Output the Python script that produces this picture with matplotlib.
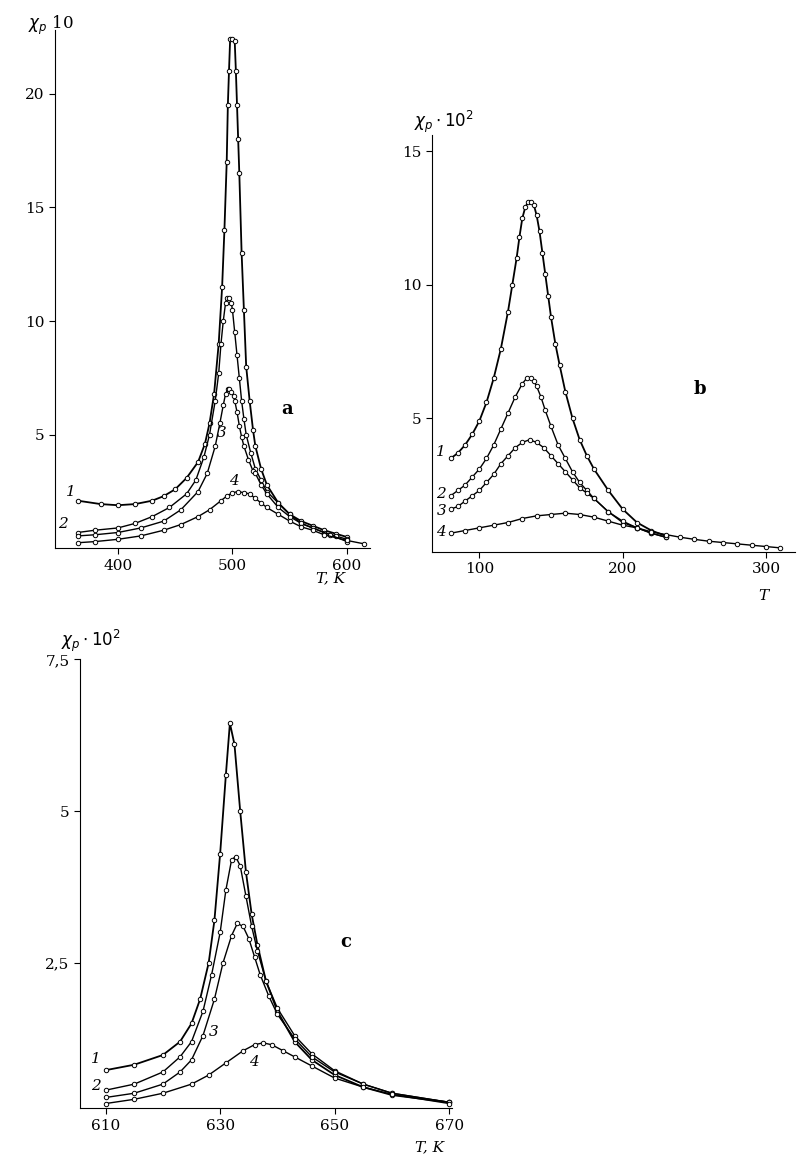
import matplotlib
matplotlib.use("Agg")
import matplotlib.pyplot as plt
import numpy as np

# Panel a
a_T = {
 1: [365,385,400,415,430,440,450,460,470,476,480,484,488,491,493,495,496,497,498,500,502,503,504,505,506,508,510,512,515,518,520,525,530,540,550,560,570,580,590,600],
 2: [365,380,400,415,430,445,460,468,475,480,485,488,490,492,494,495,497,499,500,502,504,506,508,510,512,516,520,525,530,540,550,560,570,580,590,600],
 3: [365,380,400,420,440,455,470,478,485,489,492,494,496,497,499,501,502,504,506,508,510,514,518,520,525,530,540,550,560,570,585,600],
 4: [365,380,400,420,440,455,470,480,490,495,500,505,510,515,520,525,530,540,550,560,570,580,600,615],
}
a_X = {
 1: [2.1,1.95,1.9,1.95,2.1,2.3,2.6,3.1,3.8,4.6,5.5,6.8,9.0,11.5,14.0,17.0,19.5,21.0,22.4,22.4,22.3,21.0,19.5,18.0,16.5,13.0,10.5,8.0,6.5,5.2,4.5,3.5,2.8,2.0,1.5,1.2,1.0,0.8,0.65,0.5],
 2: [0.7,0.8,0.9,1.1,1.4,1.8,2.4,3.0,4.0,5.0,6.5,7.7,9.0,10.0,10.8,11.0,11.0,10.8,10.5,9.5,8.5,7.5,6.5,5.7,5.0,4.2,3.5,3.0,2.5,2.0,1.5,1.1,0.9,0.7,0.55,0.4],
 3: [0.55,0.6,0.7,0.9,1.2,1.7,2.5,3.3,4.5,5.5,6.3,6.8,7.0,7.0,6.9,6.7,6.5,6.0,5.4,4.9,4.5,3.9,3.4,3.3,2.8,2.4,1.8,1.4,1.1,0.9,0.6,0.3],
 4: [0.25,0.3,0.4,0.55,0.8,1.05,1.4,1.7,2.1,2.3,2.45,2.5,2.45,2.4,2.2,2.0,1.8,1.5,1.2,0.95,0.8,0.6,0.35,0.2],
}
# Panel b
b_T = {
 1: [80,85,90,95,100,105,110,115,120,123,126,128,130,132,134,136,138,140,142,144,146,148,150,153,156,160,165,170,175,180,190,200,210,220,230],
 2: [80,85,90,95,100,105,110,115,120,125,130,133,136,138,140,143,146,150,155,160,165,170,175,180,190,200,210,220,230],
 3: [80,85,90,95,100,105,110,115,120,125,130,135,140,145,150,155,160,165,170,175,180,190,200,210,220,230],
 4: [80,90,100,110,120,130,140,150,160,170,180,190,200,210,220,230,240,250,260,270,280,290,300,310],
}
b_X = {
 1: [3.5,3.7,4.0,4.4,4.9,5.6,6.5,7.6,9.0,10.0,11.0,11.8,12.5,12.9,13.1,13.1,13.0,12.6,12.0,11.2,10.4,9.6,8.8,7.8,7.0,6.0,5.0,4.2,3.6,3.1,2.3,1.6,1.1,0.8,0.6],
 2: [2.1,2.3,2.5,2.8,3.1,3.5,4.0,4.6,5.2,5.8,6.3,6.5,6.5,6.4,6.2,5.8,5.3,4.7,4.0,3.5,3.0,2.6,2.3,2.0,1.5,1.1,0.9,0.7,0.55],
 3: [1.6,1.7,1.9,2.1,2.3,2.6,2.9,3.3,3.6,3.9,4.1,4.2,4.1,3.9,3.6,3.3,3.0,2.7,2.4,2.2,2.0,1.5,1.15,0.9,0.7,0.55],
 4: [0.7,0.8,0.9,1.0,1.1,1.25,1.35,1.4,1.45,1.4,1.3,1.15,1.0,0.9,0.75,0.65,0.55,0.47,0.4,0.35,0.3,0.25,0.2,0.15],
}
# Panel c
c_T = {
 1: [610,615,620,623,625,626.5,628,629,630,631,631.7,632.5,633.5,634.5,635.5,636.5,638,640,643,646,650,655,660,670],
 2: [610,615,620,623,625,627,628.5,630,631,632,632.7,633.5,634.5,635.5,636.5,638,640,643,646,650,655,660,670],
 3: [610,615,620,623,625,627,629,630.5,632,633,634,635,636,637,638.5,640,643,646,650,655,660,670],
 4: [610,615,620,625,628,631,634,636,637.5,639,641,643,646,650,655,660,670],
}
c_X = {
 1: [0.73,0.82,0.98,1.2,1.5,1.9,2.5,3.2,4.3,5.6,6.45,6.1,5.0,4.0,3.3,2.8,2.2,1.7,1.2,0.9,0.65,0.45,0.32,0.2],
 2: [0.4,0.5,0.7,0.95,1.2,1.7,2.3,3.0,3.7,4.2,4.25,4.1,3.6,3.1,2.7,2.2,1.75,1.3,1.0,0.72,0.5,0.35,0.2],
 3: [0.28,0.35,0.5,0.7,0.9,1.3,1.9,2.5,2.95,3.15,3.1,2.9,2.6,2.3,1.95,1.65,1.25,0.95,0.7,0.5,0.35,0.2],
 4: [0.18,0.25,0.35,0.5,0.65,0.85,1.05,1.15,1.18,1.15,1.05,0.95,0.8,0.6,0.45,0.33,0.18],
}

fig = plt.figure(figsize=(8.06, 11.57), dpi=100)
plt.rcParams['font.family'] = ['DejaVu Serif']

def style(ax):
    for s in ['top', 'right']:
        ax.spines[s].set_visible(False)
    ax.tick_params(direction='out', length=4, labelsize=11)

def draw(ax, T, X):
    for k in [1, 2, 3, 4]:
        ax.plot(T[k], X[k], '-', color='black', lw=1.3 if k == 1 else 1.0,
                marker='o', ms=3.2, mfc='white', mec='black', mew=0.7)

ax = fig.add_axes([0.068, 0.526, 0.391, 0.448])
draw(ax, a_T, a_X)
ax.set_xlim(345, 620); ax.set_ylim(0, 22.8)
ax.set_xticks([400, 500, 600]); ax.set_yticks([5, 10, 15, 20])
style(ax)
ax.text(0.035, 0.978, r'$\chi_p$ 10', transform=fig.transFigure, fontsize=12, va='center')
ax.text(0.83, -0.045, 'T, K', transform=ax.transAxes, fontsize=11, style='italic', va='top')
ax.text(0.72, 0.26, 'a', transform=ax.transAxes, fontsize=13, weight='bold')
for lab, x, y in [('1', 355, 2.3), ('2', 348, 0.9), ('3', 486, 4.9), ('4', 497, 2.8)]:
    ax.text(x, y, lab, fontsize=11, style='italic')

ax = fig.add_axes([0.536, 0.523, 0.45, 0.36])
draw(ax, b_T, b_X)
ax.set_xlim(67, 320); ax.set_ylim(0, 15.6)
ax.set_xticks([100, 200, 300]); ax.set_yticks([5, 10, 15])
style(ax)
ax.text(-0.05, 1.02, r'$\chi_p\cdot10^2$', transform=ax.transAxes, fontsize=12)
ax.text(0.9, -0.09, 'T', transform=ax.transAxes, fontsize=11, style='italic', va='top')
ax.text(0.72, 0.38, 'b', transform=ax.transAxes, fontsize=13, weight='bold')
for lab, x, y in [('1', 70, 3.6), ('2', 70, 2.0), ('3', 70, 1.4), ('4', 70, 0.6)]:
    ax.text(x, y, lab, fontsize=11, style='italic')

ax = fig.add_axes([0.099, 0.042, 0.462, 0.388])
draw(ax, c_T, c_X)
ax.set_xlim(605.5, 670.5); ax.set_ylim(0.1, 7.5)
ax.set_xticks([610, 630, 650, 670]); ax.set_yticks([2.5, 5, 7.5])
ax.set_yticklabels(['2,5', '5', '7,5'])
style(ax)
ax.text(-0.05, 1.03, r'$\chi_p\cdot10^2$', transform=ax.transAxes, fontsize=12)
ax.text(0.9, -0.07, 'T, K', transform=ax.transAxes, fontsize=11, style='italic', va='top')
ax.text(0.7, 0.36, 'c', transform=ax.transAxes, fontsize=13, weight='bold')
for lab, x, y in [('1', 607.5, 0.85), ('2', 607.5, 0.4), ('3', 628, 1.3), ('4', 635, 0.8)]:
    ax.text(x, y, lab, fontsize=11, style='italic')

fig.savefig('out.png', dpi=100)
